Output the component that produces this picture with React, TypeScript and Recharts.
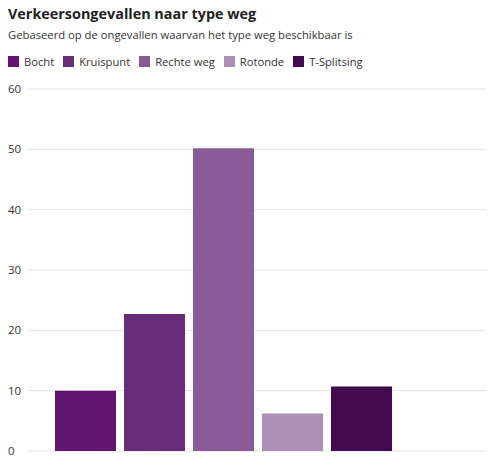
import React from 'react';
import { BarChart, Bar, XAxis, YAxis, CartesianGrid, Legend } from 'recharts';

const categories = ['Verkeersongevallen'];
const seriesNames = ['Bocht', 'Kruispunt', 'Rechte weg', 'Rotonde', 'T-Splitsing'];
const seriesValues = [10.0, 22.7, 50.2, 6.2, 10.7];
const seriesColors = ['#621473', '#692c79', '#885b96', '#ae8db7', '#420a4f'];
const yTicks = [0, 10, 20, 30, 40, 50, 60];

const data = categories.map(cat => {
  const row: Record<string, string | number> = { name: cat };
  seriesNames.forEach((s, i) => { row[s] = seriesValues[i]; });
  return row;
});

const FONT = '"Open Sans", "Noto Sans", sans-serif';

function LegendContent() {
  return (
    <div style={{ display: 'flex', height: 20, alignItems: 'center', fontFamily: FONT, fontSize: 11.2, color: '#333' }}>
      {seriesNames.map((s, i) => (
        <div key={s} style={{ display: 'flex', alignItems: 'center', marginRight: 9 }}>
          <span style={{ width: 11, height: 11, background: seriesColors[i], marginRight: 5, display: 'inline-block' }} />
          <span>{s}</span>
        </div>
      ))}
    </div>
  );
}

function YTick(props: any) {
  const { y, payload } = props;
  return (
    <text x={0} y={y} dy={4} textAnchor="start" fill="#333" fontSize={11.5} fontFamily={FONT}>
      {payload.value}
    </text>
  );
}

export default function App() {
  return (
    <div style={{ width: 484, fontFamily: FONT }}>
      <div style={{ fontWeight: 700, fontSize: 14.4, color: '#222', lineHeight: '20px', marginTop: -4 }}>
        Verkeersongevallen naar type weg
      </div>
      <div style={{ fontSize: 11.25, color: '#333', lineHeight: '16px', marginTop: 3 }}>
        Gebaseerd op de ongevallen waarvan het type weg beschikbaar is
      </div>
      <BarChart
        width={484}
        height={424}
        data={data}
        margin={{ top: 26, right: 6, bottom: 16, left: 0 }}
        barCategoryGap={27}
        barGap={8}
      >
        <CartesianGrid vertical={false} stroke="#e3e3e3" />
        <Legend
          verticalAlign="top"
          align="left"
          content={<LegendContent />}
          wrapperStyle={{ top: 8, left: 0 }}
        />
        <XAxis
          dataKey="name"
          tick={false}
          tickLine={false}
          height={0}
          axisLine={{ stroke: '#8a8a8a', strokeWidth: 1.5 }}
          padding={{ left: 0, right: 69 }}
        />
        <YAxis
          domain={[0, 60]}
          ticks={yTicks}
          axisLine={false}
          tickLine={false}
          width={20}
          tick={<YTick />}
        />
        {seriesNames.map((s, i) => (
          <Bar key={s} dataKey={s} fill={seriesColors[i]} isAnimationActive={false} />
        ))}
      </BarChart>
    </div>
  );
}
